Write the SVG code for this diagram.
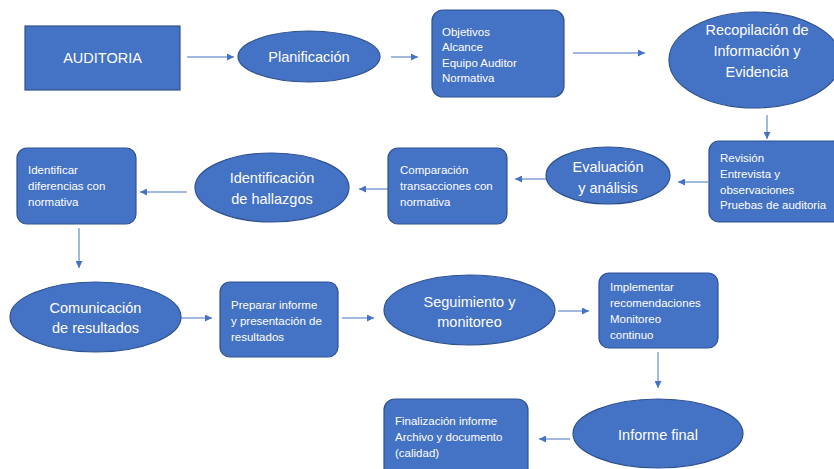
<svg xmlns="http://www.w3.org/2000/svg" width="834" height="469" viewBox="0 0 834 469">
<style>
.n{fill:#4472C4;stroke:#2F528F;stroke-width:1.2}
.big{font-family:"Liberation Sans",Arial,sans-serif;font-size:14.5px;fill:#fff;text-anchor:middle}
.sm{font-family:"Liberation Sans",Arial,sans-serif;font-size:11.5px;fill:#fff}
.c{stroke:#4472C4;stroke-width:1;fill:none;marker-end:url(#ah)}
</style>
<defs>
<marker id="ah" viewBox="0 0 10 10" refX="10" refY="5" markerWidth="7" markerHeight="7" markerUnits="userSpaceOnUse" orient="auto">
<path d="M0,0 L10,5 L0,10 Z" fill="#4472C4"/>
</marker>
</defs>
<rect width="834" height="469" fill="#fff"/>
<g id="connectors">
<line class="c" x1="187" y1="57" x2="234" y2="57"/>
<line class="c" x1="391" y1="57" x2="418" y2="57"/>
<line class="c" x1="573" y1="53" x2="645" y2="53"/>
<line class="c" x1="767" y1="115" x2="767" y2="139"/>
<line class="c" x1="708" y1="182" x2="678" y2="182"/>
<line class="c" x1="546" y1="179" x2="515" y2="179"/>
<line class="c" x1="388" y1="189" x2="359" y2="189"/>
<line class="c" x1="187" y1="192" x2="140" y2="192"/>
<line class="c" x1="79" y1="228" x2="79" y2="268"/>
<line class="c" x1="181" y1="318" x2="212" y2="318"/>
<line class="c" x1="342" y1="318" x2="374" y2="318"/>
<line class="c" x1="558" y1="311" x2="589" y2="311"/>
<line class="c" x1="658" y1="352" x2="658" y2="388"/>
<line class="c" x1="570" y1="439" x2="539" y2="439"/>
</g>
<g id="auditoria">
<rect class="n" x="25" y="26" width="155" height="64"/>
<text class="big" x="102.5" y="63">AUDITORIA</text>
</g>
<g id="planificacion">
<ellipse class="n" cx="309" cy="56.5" rx="71" ry="25.5"/>
<text class="big" x="309" y="62">Planificación</text>
</g>
<g id="objetivos">
<rect class="n" x="432" y="10" width="132" height="87" rx="11"/>
<text class="sm" x="442" y="35.5">Objetivos</text>
<text class="sm" x="442" y="51">Alcance</text>
<text class="sm" x="442" y="66.5">Equipo Auditor</text>
<text class="sm" x="442" y="82">Normativa</text>
</g>
<g id="recopilacion">
<ellipse class="n" cx="755" cy="60" rx="86" ry="48"/>
<text class="big" x="757" y="35">Recopilación de</text>
<text class="big" x="757" y="56">Información y</text>
<text class="big" x="757" y="77">Evidencia</text>
</g>
<g id="revision">
<rect class="n" x="709" y="141" width="134" height="81" rx="10"/>
<text class="sm" x="720" y="162">Revisión</text>
<text class="sm" x="720" y="178">Entrevista y</text>
<text class="sm" x="720" y="193.5">observaciones</text>
<text class="sm" x="720" y="209">Pruebas de auditoria</text>
</g>
<g id="evaluacion">
<ellipse class="n" cx="608" cy="175.5" rx="62" ry="28.5"/>
<text class="big" x="608" y="172">Evaluación</text>
<text class="big" x="608" y="193">y análisis</text>
</g>
<g id="comparacion">
<rect class="n" x="388" y="148" width="119" height="76" rx="10"/>
<text class="sm" x="400" y="174">Comparación</text>
<text class="sm" x="400" y="190">transacciones con</text>
<text class="sm" x="400" y="206">normativa</text>
</g>
<g id="identificacion">
<ellipse class="n" cx="272" cy="187.5" rx="77" ry="34.5"/>
<text class="big" x="272" y="183">Identificación</text>
<text class="big" x="272" y="204">de hallazgos</text>
</g>
<g id="identificar">
<rect class="n" x="17" y="148" width="119" height="76" rx="10"/>
<text class="sm" x="28" y="174">Identificar</text>
<text class="sm" x="28" y="190">diferencias con</text>
<text class="sm" x="28" y="206">normativa</text>
</g>
<g id="comunicacion">
<ellipse class="n" cx="95.5" cy="317" rx="85.5" ry="35"/>
<text class="big" x="95.5" y="313">Comunicación</text>
<text class="big" x="95.5" y="333">de resultados</text>
</g>
<g id="preparar">
<rect class="n" x="220" y="282" width="118" height="75" rx="10"/>
<text class="sm" x="231" y="309">Preparar informe</text>
<text class="sm" x="231" y="325">y presentación de</text>
<text class="sm" x="231" y="341">resultados</text>
</g>
<g id="seguimiento">
<ellipse class="n" cx="469.5" cy="310" rx="85.5" ry="35"/>
<text class="big" x="469.5" y="307">Seguimiento y</text>
<text class="big" x="469.5" y="327">monitoreo</text>
</g>
<g id="implementar">
<rect class="n" x="599" y="273" width="119" height="75" rx="10"/>
<text class="sm" x="610" y="291">Implementar</text>
<text class="sm" x="610" y="307">recomendaciones</text>
<text class="sm" x="610" y="323">Monitoreo</text>
<text class="sm" x="610" y="339">continuo</text>
</g>
<g id="informe-final">
<ellipse class="n" cx="658" cy="433.5" rx="85" ry="34.5"/>
<text class="big" x="658" y="440">Informe final</text>
</g>
<g id="finalizacion">
<rect class="n" x="384" y="399" width="144" height="80" rx="11"/>
<text class="sm" x="395" y="425">Finalización informe</text>
<text class="sm" x="395" y="441">Archivo y documento</text>
<text class="sm" x="395" y="457">(calidad)</text>
</g>
</svg>
